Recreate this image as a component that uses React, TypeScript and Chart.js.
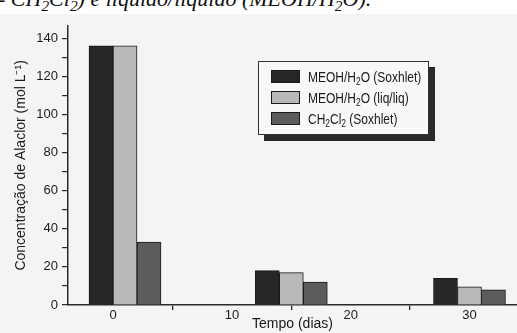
import React, { useEffect, useRef } from 'react';
import { Chart, registerables } from 'chart.js';

Chart.register(...registerables);

// ---- data ----
const days = [1, 15, 30];
const meohSoxhlet = [136, 18, 14];
const meohLiqLiq = [136, 17, 9.5];
const ch2cl2Soxhlet = [33, 12, 8];
const seriesLabels = ['MEOH/H₂O (Soxhlet)', 'MEOH/H₂O (liq/liq)', 'CH₂Cl₂ (Soxhlet)'];
const seriesColors = ['#262626', '#b9b9b9', '#5c5c5c'];
const xTickValues = [0, 5, 10, 15, 20, 25, 30];
const xLabelledTicks = [0, 10, 20, 30];
const yTickValues = [0, 10, 20, 30, 40, 50, 60, 70, 80, 90, 100, 110, 120, 130, 140];
const yLabelledTicks = [0, 20, 40, 60, 80, 100, 120, 140];
const captionText = '- CH₂Cl₂) e líquido/líquido (MEOH/H₂O).';
const xTitle = 'Tempo (dias)';
const yTitle = 'Concentração de Alaclor (mol L⁻¹)';

function withSubs(s: string) {
  const parts = s.split('₂');
  const out: any[] = [];
  parts.forEach((p, i) => {
    out.push(<span key={'t' + i}>{p}</span>);
    if (i < parts.length - 1) out.push(<sub key={'s' + i} style={{ fontSize: '0.7em', verticalAlign: '-0.3em', lineHeight: 0 }}>2</sub>);
  });
  return out;
}

const near = (a: number, b: number) => Math.abs(a - b) < 1e-6;

export default function App() {
  const ref = useRef<HTMLCanvasElement | null>(null);

  useEffect(() => {
    if (!ref.current) return;
    const series = [meohSoxhlet, meohLiqLiq, ch2cl2Soxhlet];
    const chart = new Chart(ref.current, {
      type: 'bar',
      data: {
        datasets: series.map((vals, i) => ({
          label: seriesLabels[i],
          data: vals.map((v, j) => ({ x: days[j], y: v })),
          backgroundColor: seriesColors[i],
          borderColor: '#1a1a1a',
          borderWidth: 1,
          barThickness: 24,
        })),
      },
      options: {
        animation: false,
        responsive: false,
        layout: { padding: 0 },
        plugins: { legend: { display: false }, tooltip: { enabled: false } },
        scales: {
          x: {
            type: 'linear',
            min: -3.8,
            max: 34,
            offset: false,
            afterFit: (s: any) => { s.height = 28; },
            afterBuildTicks: (s: any) => { s.ticks = xTickValues.map((v) => ({ value: v })); },
            grid: {
              offset: false,
              drawOnChartArea: false,
              tickLength: 5,
              lineWidth: 1.3,
              color: (c: any) => {
                const v = c.tick ? c.tick.value : 0;
                return xLabelledTicks.some((t) => near(t, v)) ? 'rgba(0,0,0,0)' : '#2a2a2a';
              },
            },
            border: { color: '#2a2a2a', width: 1.5 },
            ticks: {
              autoSkip: false,
              maxRotation: 0,
              padding: -2,
              color: '#1a1a1a',
              font: { family: '"Liberation Sans", Arial, sans-serif', size: 13 },
              callback: (v: any) => {
                const n = Number(v);
                return xLabelledTicks.some((t) => near(t, n)) ? String(n) : '';
              },
            },
            title: {
              display: true,
              text: xTitle,
              color: '#1a1a1a',
              font: { family: '"Liberation Sans", Arial, sans-serif', size: 14 },
              padding: { top: 0, bottom: 0 },
            },
          },
          y: {
            type: 'linear',
            min: 0,
            max: 146.5,
            afterFit: (s: any) => { s.width = 68; },
            afterBuildTicks: (s: any) => { s.ticks = yTickValues.map((v) => ({ value: v })); },
            grid: {
              drawOnChartArea: false,
              tickLength: 6,
              lineWidth: 1.2,
              color: '#2a2a2a',
            },
            border: { color: '#2a2a2a', width: 1.5 },
            ticks: {
              autoSkip: false,
              padding: 4,
              color: '#1a1a1a',
              font: { family: '"Liberation Sans", Arial, sans-serif', size: 13 },
              callback: (v: any) => {
                const n = Number(v);
                return yLabelledTicks.some((t) => near(t, n)) ? String(n) : '';
              },
            },
            title: {
              display: true,
              text: yTitle,
              color: '#1a1a1a',
              font: { family: '"Liberation Sans", Arial, sans-serif', size: 14 },
              padding: { top: 13, bottom: 0 },
            },
          },
        },
      } as any,
    });
    return () => chart.destroy();
  }, []);

  return (
    <div style={{ position: 'absolute', left: 0, top: 0, width: 517, height: 333, background: '#fff', overflow: 'hidden' }}>
      <div style={{ position: 'absolute', left: 0, top: 0, width: 517, height: 14, overflow: 'hidden' }}>
        <div style={{ position: 'absolute', left: -2, top: -14, whiteSpace: 'nowrap', font: 'italic 22px "Liberation Serif", serif', color: '#111' }}>
          {withSubs(captionText)}
        </div>
      </div>
      <div style={{ position: 'absolute', left: 0, top: 14, width: 517, height: 319, background: '#f4f4f4' }}>
        <canvas ref={ref} width={517} height={319} style={{ display: 'block' }} />
      </div>
      <div style={{ position: 'absolute', left: 258, top: 61, width: 171, height: 74, boxSizing: 'border-box', border: '1px solid #333', background: '#f8f8f8', boxShadow: '6px 6px 0 #2a2a2a' }}>
        {seriesLabels.map((lab, i) => (
          <div key={i} style={{ position: 'absolute', left: 12, top: 7 + i * 21, height: 14, display: 'flex', alignItems: 'center', whiteSpace: 'nowrap' }}>
            <div style={{ width: 29, height: 13, background: seriesColors[i], border: '1px solid #1a1a1a', boxSizing: 'border-box', flex: 'none' }} />
            <div style={{ marginLeft: 8, font: '15px "Liberation Sans", Arial, sans-serif', color: '#1a1a1a', transform: 'scaleX(0.8)', transformOrigin: 'left center' }}>
              {withSubs(lab)}
            </div>
          </div>
        ))}
      </div>
    </div>
  );
}
